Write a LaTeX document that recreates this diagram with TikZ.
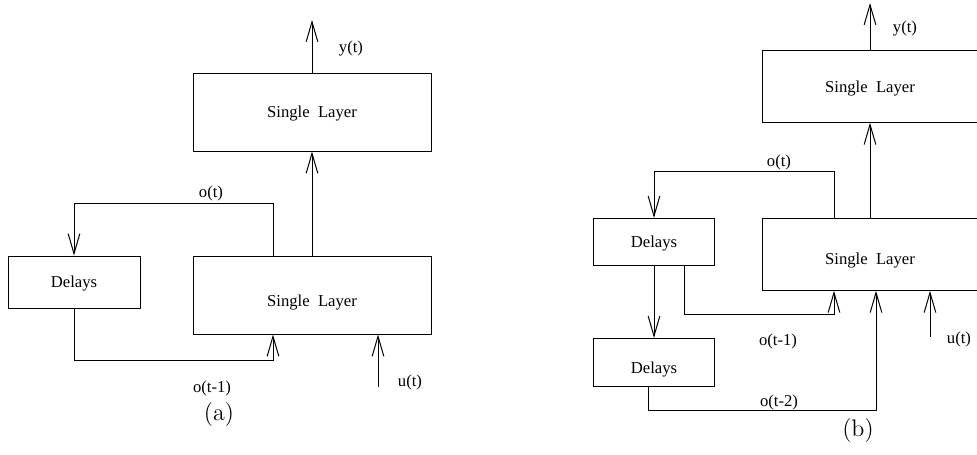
\documentclass[tikz,border=0pt]{standalone}
\usepackage{fontspec}
\newfontfamily\timesfont{Liberation Serif}
\usetikzlibrary{arrows.meta}

\tikzset{
  box/.style={draw, line width=0.6pt, inner sep=0pt, font=\timesfont},
  lowtext/.style={text height=#1, text depth=2.2pt},
  arr/.style={line width=0.6pt, -{Straight Barb[length=12pt,width=7pt]}},
  tag/.style={font=\timesfont, inner sep=0pt},
}

\begin{document}
\begin{tikzpicture}[x=0.6pt, y=-0.6pt]
    \useasboundingbox (0,0) rectangle (977,454);

    % (a) one delay line
    \node[box, minimum width=142.8pt, minimum height=46.8pt, lowtext=9pt] (topA) at (312,112) {Single\ \ Layer};
    \node[box, minimum width=142.8pt, minimum height=46.8pt, lowtext=16pt] (layerA) at (312,295) {Single\ \ Layer};
    \node[box, minimum width=79.2pt, minimum height=31.2pt, lowtext=9pt] (delayA) at (74,282) {Delays};

    \coordinate (yA) at (312,20);
    \coordinate (oA) at (273,203);
    \coordinate (dA) at (74,360);
    \coordinate (uA) at (378,387);

    \draw[arr] (topA.north) -- (yA);
    \draw[arr] (layerA.north) -- (topA.south);
    \draw[arr] (layerA.north -| oA) -- (oA) -| (delayA.north);
    \draw[arr] (delayA.south) -- (dA) -| (layerA.south -| oA);
    \draw[arr] (uA) -- (layerA.south -| uA);

    % (b) two delay lines
    \node[box, minimum width=129.6pt, minimum height=42.9pt, lowtext=9pt] (topB) at (870,86.5) {Single\ \ Layer};
    \node[box, minimum width=129.6pt, minimum height=43.2pt, lowtext=15pt] (layerB) at (870,254.3) {Single\ \ Layer};
    \node[box, minimum width=72.2pt, minimum height=28.4pt, lowtext=9pt] (delayB1) at (654,242) {Delays};
    \node[box, minimum width=72.2pt, minimum height=28.6pt, lowtext=16pt] (delayB2) at (654,362.2) {Delays};

    \coordinate (yB) at (870,3);
    \coordinate (oB) at (834,171);
    \coordinate (d1B) at (684,314);
    \coordinate (d2B) at (648,410);
    \coordinate (d2r) at (876,410);
    \coordinate (uB) at (930,337);

    \draw[arr] (topB.north) -- (yB);
    \draw[arr] (layerB.north) -- (topB.south);
    \draw[arr] (layerB.north -| oB) -- (oB) -| (delayB1.north);
    \draw[arr] (delayB1.south) -- (delayB2.north);
    \draw[arr] (delayB1.south -| d1B) -- (d1B) -| (layerB.south -| oB);
    \draw[arr] (delayB2.south -| d2B) -- (d2B) -- (d2r) -- (layerB.south -| d2r);
    \draw[arr] (uB) -- (layerB.south -| uB);

    % signal labels
    \foreach \x/\y/\t/\n in {351/49/y(t)/lyA, 211/193/o(t)/loA, 212/388/o(t-1)/lo1A, 410/382/u(t)/luA,
                             905/29/y(t)/lyB, 779/162/o(t)/loB, 778/341/o(t-1)/lo1B, 779/402/o(t-2)/lo2B, 959/339/u(t)/luB}
        \node[tag] (\n) at (\x,\y) {\t};

    \node[font=\Large] (capA) at (219,415) {(a)};
    \node[font=\Large] (capB) at (858,431) {(b)};
\end{tikzpicture}
\end{document}
